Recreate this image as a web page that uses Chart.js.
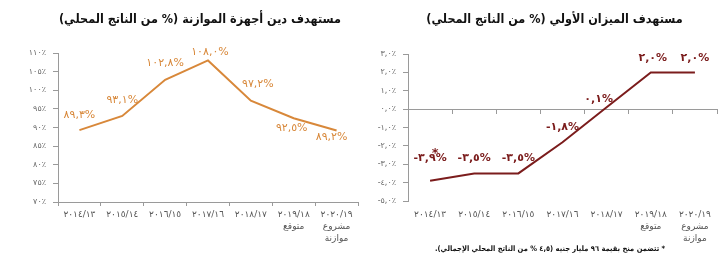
<!DOCTYPE html>
<html lang="ar" dir="ltr">
<head>
<meta charset="utf-8">
<script src="https://cdn.jsdelivr.net/npm/chart.js@4.4.1/dist/chart.umd.min.js"></script>
<style>
  html, body { margin: 0; padding: 0; background: #fff; }
  #wrap { display: flex; width: 720px; height: 273px; }
  .box { position: relative; width: 360px; height: 273px; }
</style>
</head>
<body>
<div id="wrap">
  <div class="box"><canvas id="debtChart"></canvas></div>
  <div class="box"><canvas id="balanceChart"></canvas></div>
</div>
<script>
// ========== DATA ==========
const categories = [
  ["٢٠١٤/١٣"],
  ["٢٠١٥/١٤"],
  ["٢٠١٦/١٥"],
  ["٢٠١٧/١٦"],
  ["٢٠١٨/١٧"],
  ["٢٠١٩/١٨", "متوقع"],
  ["٢٠٢٠/١٩", "مشروع", "موازنة"]
];

const debtValues = [89.3, 93.1, 102.8, 108.0, 97.2, 92.5, 89.2];
const balanceValues = [-3.9, -3.5, -3.5, -1.8, 0.1, 2.0, 2.0];

const debtTickLabels = ["٧٠٪", "٧٥٪", "٨٠٪", "٨٥٪", "٩٠٪", "٩٥٪", "١٠٠٪", "١٠٥٪", "١١٠٪"];
const balanceTickLabels = ["-٥,٠٪", "-٤,٠٪", "-٣,٠٪", "-٢,٠٪", "-١,٠٪", "٠,٠٪", "١,٠٪", "٢,٠٪", "٣,٠٪"];

const debtTitle = "مستهدف دين أجهزة الموازنة (% من الناتج المحلي)";
const balanceTitle = "مستهدف الميزان الأولي (% من الناتج المحلي)";
const footnote = "* تتضمن منح بقيمة ٩٦ مليار جنيه (٤,٥ % من الناتج المحلي الإجمالي).";

// label nudges (pixels) relative to each point
const debtLabelOffsets = [[0, -15], [0, -16], [0, -17], [2, -8], [7, -17], [-2, 10], [-5, 7]];
const balanceLabelOffsets = [[0, -23], [0, -15], [0, -15], [0, -15], [-8, -8], [2, -14], [0, -14]];

const ORANGE = "#D8883A";
const DARKRED = "#7B1C1C";
const AXIS = "#9a9a9a";
const FONT = "'DejaVu Sans', sans-serif";
const COND = "'DejaVu Sans Condensed', 'DejaVu Sans', sans-serif";

// ========== HELPERS ==========
function toArabicDigits(str) {
  return str.replace(/[0-9]/g, (d) => "٠١٢٣٤٥٦٧٨٩"[d]);
}

function formatValue(v) {
  return toArabicDigits(v.toFixed(1).replace(".", ",")) + "%";
}

// draws value labels next to each point, plus title / footnote text
const textPlugin = {
  id: "textPlugin",
  afterDatasetsDraw(chart, args, opts) {
    const ctx = chart.ctx;
    const meta = chart.getDatasetMeta(0);
    const values = chart.data.datasets[0].data;
    ctx.save();
    ctx.textAlign = "center";
    ctx.textBaseline = "middle";
    ctx.fillStyle = opts.color;
    ctx.font = opts.labelFont;
    meta.data.forEach((pt, i) => {
      const [dx, dy] = opts.offsets[i];
      ctx.fillText(formatValue(values[i]), pt.x + dx, pt.y + dy);
    });
    if (opts.star) {
      const pt = meta.data[opts.star.index];
      ctx.font = "bold 13px " + FONT;
      ctx.fillText("*", pt.x + opts.star.dx, pt.y + opts.star.dy);
    }

    ctx.direction = "rtl";
    ctx.fillStyle = "#111";
    ctx.font = "bold 12.5px " + COND;
    const area = chart.chartArea;
    ctx.fillText(opts.title, (area.left + area.right) / 2 - 8, 20);
    if (opts.footnote) {
      ctx.font = "bold 7.5px " + COND;
      ctx.fillText(opts.footnote, opts.footnoteX, 249);
    }
    ctx.restore();
  }
};

function baseOptions() {
  return {
    responsive: false,
    animation: false,
    plugins: { legend: { display: false }, tooltip: { enabled: false } },
    elements: { point: { radius: 0 }, line: { tension: 0, borderWidth: 2 } }
  };
}

function makeCanvas(id) {
  const c = document.getElementById(id);
  c.width = 360;
  c.height = 273;
  c.style.width = "360px";
  c.style.height = "273px";
  return c;
}

// ========== DEBT CHART ==========
const debtOpts = baseOptions();
debtOpts.layout = { padding: { top: 53, right: 2, left: 0, bottom: 0 } };
debtOpts.plugins.textPlugin = {
  color: ORANGE,
  labelFont: "11px " + FONT,
  offsets: debtLabelOffsets,
  title: debtTitle
};
debtOpts.scales = {
  x: {
    offset: true,
    grid: { display: true, drawOnChartArea: false, drawTicks: true, tickLength: 4, color: AXIS, offset: true },
    border: { display: true, color: AXIS },
    ticks: { color: "#555", font: { size: 9, family: FONT, lineHeight: 1.3 }, padding: 3, maxRotation: 0, autoSkip: false },
    afterFit: (s) => { s.height = 71; }
  },
  y: {
    min: 70,
    max: 110,
    grid: { display: true, drawOnChartArea: false, drawTicks: true, tickLength: 5, color: AXIS },
    border: { display: true, color: AXIS },
    ticks: {
      stepSize: 5,
      color: "#666",
      font: { size: 8, family: FONT },
      padding: 7,
      callback: (v, i) => debtTickLabels[i]
    },
    afterFit: (s) => { s.width = 58; }
  }
};

new Chart(makeCanvas("debtChart"), {
  type: "line",
  data: {
    labels: categories,
    datasets: [{ data: debtValues, borderColor: ORANGE, fill: false }]
  },
  options: debtOpts,
  plugins: [textPlugin]
});

// ========== PRIMARY BALANCE CHART ==========
const balOpts = baseOptions();
balOpts.layout = { padding: { top: 54, right: 3, left: 0, bottom: 0 } };
balOpts.plugins.textPlugin = {
  color: DARKRED,
  labelFont: "bold 11px " + FONT,
  offsets: balanceLabelOffsets,
  star: { index: 0, dx: 5, dy: -27 },
  title: balanceTitle,
  footnote: footnote,
  footnoteX: 190
};
balOpts.scales = {
  x: {
    offset: true,
    grid: { display: false, drawTicks: false },
    border: { display: false },
    ticks: { color: "#555", font: { size: 9, family: FONT, lineHeight: 1.3 }, padding: 8, maxRotation: 0, autoSkip: false },
    afterFit: (s) => { s.height = 72; }
  },
  x2: {
    axis: "x",
    type: "category",
    position: { y: 0 },
    offset: true,
    grid: { display: true, drawOnChartArea: false, drawTicks: true, tickLength: 4, color: AXIS, offset: true },
    border: { display: true, color: AXIS },
    ticks: { display: false }
  },
  y: {
    min: -5,
    max: 3,
    grid: { display: true, drawOnChartArea: false, drawTicks: true, tickLength: 5, color: AXIS },
    border: { display: true, color: AXIS },
    ticks: {
      stepSize: 1,
      color: "#666",
      font: { size: 8, family: FONT },
      padding: 7,
      callback: (v, i) => balanceTickLabels[i]
    },
    afterFit: (s) => { s.width = 48; }
  }
};

new Chart(makeCanvas("balanceChart"), {
  type: "line",
  data: {
    labels: categories,
    datasets: [{ data: balanceValues, borderColor: DARKRED, fill: false }]
  },
  options: balOpts,
  plugins: [textPlugin]
});
</script>
</body>
</html>
